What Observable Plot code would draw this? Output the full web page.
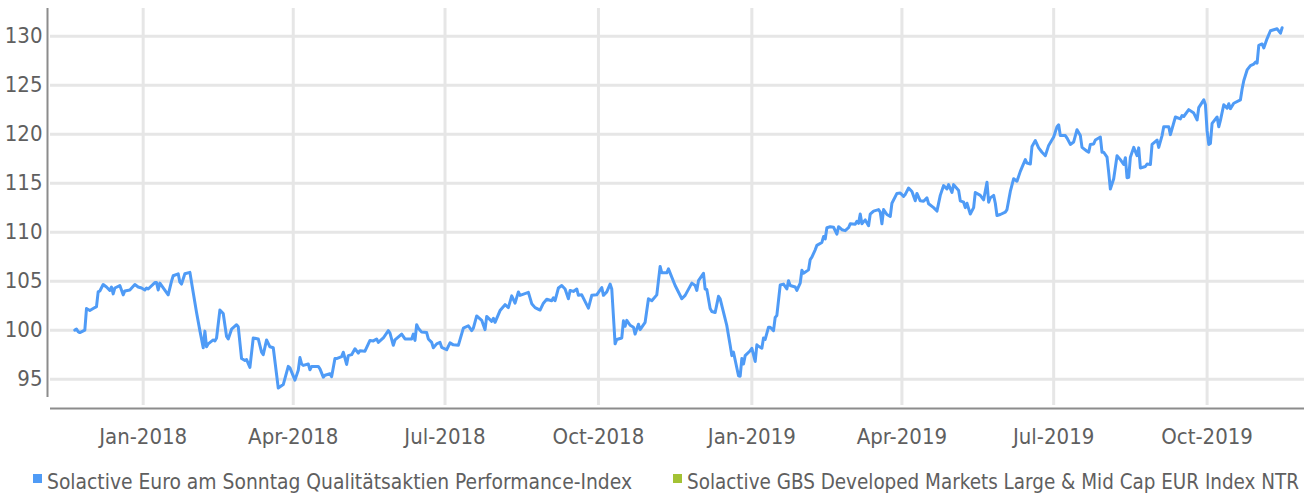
<!DOCTYPE html>
<html><head><meta charset="utf-8">
<script src="https://cdn.jsdelivr.net/npm/d3@7"></script>
<script src="https://cdn.jsdelivr.net/npm/@observablehq/plot@0.6"></script>
<style>
body{margin:0;background:#fff;}
#wrap{position:relative;width:1304px;height:495px;overflow:hidden;font-family:"Liberation Sans Narrow","DejaVu Sans Condensed","Roboto",sans-serif;color:#5f5f5f;background:#fff;}
#chart svg{display:block;}
.leg{position:absolute;top:469px;font-size:21px;line-height:26px;white-space:nowrap;transform-origin:0 50%;}
.sw{position:absolute;top:474px;width:9px;height:9px;}
</style>
</head><body>
<div id="wrap"><div id="chart"></div><div id="legend"></div></div>
<script>
const seriesNames = ["Solactive Euro am Sonntag Qualitätsaktien Performance-Index", "Solactive GBS Developed Markets Large & Mid Cap EUR Index NTR"];
const seriesColors = ["#4f9bf6", "#a3c234"];
const yTicks = [95, 100, 105, 110, 115, 120, 125, 130];
const xTickDates = ["2018-01-01","2018-04-01","2018-07-01","2018-10-01","2019-01-01","2019-04-01","2019-07-01","2019-10-01"];
const dates = [
"2017-11-21","2017-11-22","2017-11-23","2017-11-24","2017-11-27","2017-11-28","2017-11-30","2017-12-02","2017-12-04","2017-12-05",
"2017-12-06","2017-12-08","2017-12-10","2017-12-12","2017-12-13","2017-12-14","2017-12-15","2017-12-18","2017-12-20","2017-12-21",
"2017-12-24","2017-12-27","2017-12-29","2017-12-31","2018-01-02","2018-01-03","2018-01-04","2018-01-08","2018-01-09","2018-01-10",
"2018-01-11","2018-01-16","2018-01-18","2018-01-19","2018-01-22","2018-01-23","2018-01-24","2018-01-26","2018-01-29","2018-01-31",
"2018-02-02","2018-02-04","2018-02-06","2018-02-07","2018-02-08","2018-02-09","2018-02-12","2018-02-13","2018-02-14","2018-02-16",
"2018-02-18","2018-02-20","2018-02-21","2018-02-23","2018-02-26","2018-02-27","2018-03-01","2018-03-03","2018-03-04","2018-03-06",
"2018-03-08","2018-03-11","2018-03-13","2018-03-14","2018-03-16","2018-03-18","2018-03-20","2018-03-23","2018-03-26","2018-03-29",
"2018-03-30","2018-04-02","2018-04-04","2018-04-05","2018-04-06","2018-04-07","2018-04-10","2018-04-11","2018-04-12","2018-04-16",
"2018-04-17","2018-04-19","2018-04-20","2018-04-23","2018-04-24","2018-04-26","2018-04-27","2018-04-30","2018-05-01","2018-05-03",
"2018-05-04","2018-05-06","2018-05-08","2018-05-10","2018-05-11","2018-05-14","2018-05-17","2018-05-19","2018-05-21","2018-05-22",
"2018-05-25","2018-05-28","2018-05-29","2018-05-31","2018-06-01","2018-06-05","2018-06-07","2018-06-11","2018-06-12","2018-06-13",
"2018-06-14","2018-06-15","2018-06-17","2018-06-20","2018-06-21","2018-06-23","2018-06-24","2018-06-26","2018-06-28","2018-06-29",
"2018-07-02","2018-07-04","2018-07-06","2018-07-09","2018-07-12","2018-07-15","2018-07-17","2018-07-18","2018-07-20","2018-07-23",
"2018-07-25","2018-07-26","2018-07-29","2018-07-30","2018-07-31","2018-08-03","2018-08-06","2018-08-08","2018-08-10","2018-08-12",
"2018-08-14","2018-08-15","2018-08-20","2018-08-22","2018-08-24","2018-08-27","2018-08-29","2018-08-31","2018-09-03","2018-09-04",
"2018-09-05","2018-09-07","2018-09-09","2018-09-11","2018-09-13","2018-09-14","2018-09-16","2018-09-18","2018-09-19","2018-09-21",
"2018-09-25","2018-09-27","2018-09-30","2018-10-03","2018-10-04","2018-10-06","2018-10-08","2018-10-09","2018-10-11","2018-10-12",
"2018-10-15","2018-10-16","2018-10-17","2018-10-18","2018-10-20","2018-10-22","2018-10-23","2018-10-25","2018-10-26","2018-10-29",
"2018-10-31","2018-11-02","2018-11-05","2018-11-07","2018-11-08","2018-11-11","2018-11-12","2018-11-16","2018-11-20","2018-11-22",
"2018-11-26","2018-11-28","2018-11-29","2018-11-30","2018-12-03","2018-12-04","2018-12-05","2018-12-07","2018-12-08","2018-12-10",
"2018-12-12","2018-12-13","2018-12-17","2018-12-19","2018-12-20","2018-12-21","2018-12-24","2018-12-25","2018-12-26","2018-12-27",
"2018-12-28","2018-12-31","2019-01-01","2019-01-03","2019-01-04","2019-01-05","2019-01-07","2019-01-08","2019-01-09","2019-01-11",
"2019-01-12","2019-01-14","2019-01-15","2019-01-16","2019-01-18","2019-01-20","2019-01-22","2019-01-23","2019-01-24","2019-01-27",
"2019-01-28","2019-01-30","2019-01-31","2019-02-01","2019-02-04","2019-02-05","2019-02-06","2019-02-08","2019-02-09","2019-02-12",
"2019-02-13","2019-02-14","2019-02-15","2019-02-17","2019-02-19","2019-02-21","2019-02-22","2019-02-24","2019-02-26","2019-02-28",
"2019-03-01","2019-03-04","2019-03-05","2019-03-06","2019-03-07","2019-03-08","2019-03-10","2019-03-12","2019-03-13","2019-03-15",
"2019-03-18","2019-03-19","2019-03-20","2019-03-21","2019-03-23","2019-03-25","2019-03-26","2019-03-29","2019-03-31","2019-04-02",
"2019-04-03","2019-04-05","2019-04-07","2019-04-09","2019-04-10","2019-04-12","2019-04-14","2019-04-16","2019-04-17","2019-04-20",
"2019-04-22","2019-04-24","2019-04-26","2019-04-28","2019-04-29","2019-05-01","2019-05-02","2019-05-05","2019-05-06","2019-05-08",
"2019-05-09","2019-05-10","2019-05-12","2019-05-14","2019-05-15","2019-05-18","2019-05-20","2019-05-22","2019-05-23","2019-05-24",
"2019-05-26","2019-05-27","2019-05-28","2019-05-30","2019-06-02","2019-06-03","2019-06-05","2019-06-07","2019-06-09","2019-06-11",
"2019-06-12","2019-06-14","2019-06-15","2019-06-17","2019-06-18","2019-06-20","2019-06-22","2019-06-24","2019-06-26","2019-06-28",
"2019-07-01","2019-07-03","2019-07-04","2019-07-05","2019-07-08","2019-07-09","2019-07-11","2019-07-13","2019-07-15","2019-07-17",
"2019-07-18","2019-07-21","2019-07-22","2019-07-23","2019-07-25","2019-07-26","2019-07-29","2019-07-30","2019-07-31","2019-08-02",
"2019-08-03","2019-08-04","2019-08-06","2019-08-08","2019-08-10","2019-08-12","2019-08-13","2019-08-14","2019-08-15","2019-08-16",
"2019-08-18","2019-08-20","2019-08-21","2019-08-22","2019-08-25","2019-08-26","2019-08-28","2019-08-29","2019-09-01","2019-09-02",
"2019-09-04","2019-09-05","2019-09-08","2019-09-09","2019-09-12","2019-09-15","2019-09-16","2019-09-17","2019-09-20","2019-09-23",
"2019-09-25","2019-09-26","2019-09-29","2019-09-30","2019-10-01","2019-10-02","2019-10-03","2019-10-04","2019-10-07","2019-10-08",
"2019-10-09","2019-10-11","2019-10-13","2019-10-14","2019-10-15","2019-10-17","2019-10-21","2019-10-22","2019-10-23","2019-10-25",
"2019-10-27","2019-10-29","2019-10-30","2019-10-31","2019-11-01","2019-11-03","2019-11-04","2019-11-06","2019-11-08","2019-11-10",
"2019-11-12","2019-11-14","2019-11-15"
];
const values = [
100.0,100.1,99.85,99.75,100.0,102.2,102.0,102.2,102.4,103.9,
104.0,104.65,104.4,104.05,104.4,103.7,104.3,104.55,103.6,104.0,
104.1,104.65,104.4,104.3,104.1,104.3,104.2,104.85,104.85,104.1,
104.8,103.6,105.0,105.55,105.75,104.9,104.7,105.75,105.9,103.85,
101.8,99.95,98.2,99.9,98.3,98.6,99.0,98.9,99.2,102.05,
101.7,99.35,99.1,100.1,100.55,100.35,97.1,96.9,97.0,96.2,
99.2,99.1,97.75,97.5,99.0,98.3,98.2,94.1,94.45,96.3,
96.15,94.9,95.9,97.2,96.55,96.4,96.55,95.95,96.3,96.3,
96.05,95.2,95.4,95.55,95.25,97.1,97.1,97.3,97.75,96.5,
97.4,97.5,98.1,97.65,97.9,97.85,98.95,98.9,99.1,98.75,
99.2,99.95,99.7,98.45,99.0,99.6,99.1,99.1,99.6,98.95,
100.55,100.2,99.8,99.75,99.1,98.75,98.2,98.6,98.75,98.25,
98.0,98.7,98.5,98.45,100.2,100.45,99.95,100.2,101.45,101.0,
100.05,101.4,100.9,101.2,100.8,102.0,102.6,102.3,103.5,102.75,
103.9,103.55,103.85,102.7,102.3,102.05,102.75,103.15,103.0,103.3,
103.0,104.3,104.55,104.2,103.2,104.05,103.95,104.2,103.55,103.6,
102.25,103.55,103.6,104.35,103.55,103.9,104.7,104.2,98.6,99.05,
99.2,100.95,100.4,101.0,100.5,100.3,99.6,100.6,100.05,100.8,
103.2,103.0,103.6,106.5,105.85,105.85,106.25,104.55,103.2,103.55,
104.8,104.55,104.05,105.05,105.8,104.2,104.15,102.2,101.9,101.8,
103.45,103.2,100.45,98.45,97.4,97.75,95.35,95.3,97.1,96.55,
97.4,97.9,98.15,96.8,98.5,98.35,98.15,99.2,99.05,100.3,
100.3,99.95,101.3,101.5,104.6,104.7,104.2,105.05,104.55,104.4,
104.05,104.8,106.1,105.8,106.15,107.2,107.45,108.2,108.65,108.95,
109.55,109.3,110.45,110.55,110.5,109.8,110.55,110.25,110.15,110.45,
110.85,110.8,111.1,110.9,111.85,110.85,111.25,110.65,111.85,112.15,
112.3,112.05,110.85,112.3,111.8,111.6,112.95,113.95,114.0,113.65,
113.85,114.5,114.15,113.2,113.95,113.2,113.15,113.5,112.9,112.5,
112.15,113.75,114.75,114.4,114.85,114.05,114.85,114.25,113.2,113.05,
112.5,112.95,111.85,112.5,114.05,113.75,113.3,115.1,113.05,113.5,
113.75,112.95,111.7,111.8,112.05,112.3,114.15,115.45,115.2,116.2,
116.6,117.4,117.05,116.95,118.75,119.35,118.6,118.15,117.8,118.85,
119.7,120.75,120.95,119.85,119.85,119.6,118.95,119.2,120.45,119.85,
118.65,118.25,118.15,118.95,119.0,119.4,119.7,118.15,118.15,117.65,
116.1,114.4,115.45,117.8,117.4,116.9,117.6,115.55,115.6,117.65,
118.65,117.8,118.6,116.55,116.7,116.95,116.9,118.95,119.4,118.65,
119.85,120.75,120.75,119.95,121.75,121.55,121.9,121.8,122.5,122.15,
121.45,122.7,123.5,123.0,120.35,118.95,119.05,121.1,121.75,120.75,
121.4,123.0,122.65,123.1,122.6,123.15,123.5,124.6,125.45,126.55,
127.0,127.15,127.35,127.25,129.05,129.2,128.8,129.75,130.55,130.65,
130.75,130.3,130.85
];

const rows = dates.map((d, i) => ({date: new Date(d), value: values[i]}));
const xTicks = xTickDates.map(d => new Date(d));
const xDomain = [new Date("2017-11-06T10:00:00Z"), new Date("2019-11-28T10:00:00Z")];
const yDomain = [92.31, 132.82];
const font = '"Liberation Sans Narrow","DejaVu Sans Condensed","Roboto",sans-serif';

const chart = Plot.plot({
  width: 1304, height: 455,
  marginLeft: 50, marginRight: 0, marginTop: 8, marginBottom: 50,
  style: {fontSize: "22px", fontFamily: font, color: "#5f5f5f", background: "#fff", overflow: "visible"},
  x: {type: "utc", domain: xDomain, ticks: xTicks, tickFormat: d3.utcFormat("%b-%Y"), tickSize: 0, tickPadding: 23, label: null},
  y: {domain: yDomain, ticks: yTicks, tickSize: 0, tickPadding: 8, label: null},
  marks: [
    Plot.ruleY(yTicks, {stroke: "#e6e6e6", strokeWidth: 3}),
    Plot.ruleX(xTicks, {stroke: "#e6e6e6", strokeWidth: 3}),
    Plot.ruleX([xDomain[0]], {dx: -3, stroke: "#8c8c8c", strokeWidth: 2, insetBottom: 8}),
    Plot.ruleY([yDomain[0]], {dy: 3, stroke: "#8c8c8c", strokeWidth: 2}),
    Plot.line(rows, {x: "date", y: "value", stroke: seriesColors[0], strokeWidth: 3, strokeLinejoin: "round"})
  ]
});
document.getElementById("chart").appendChild(chart);

// legend layout: text start and text width of each entry
const legendLeft = [47, 687];
const legendWidth = [585, 612];
const legend = document.getElementById("legend");
seriesNames.forEach((name, i) => {
  const sw = document.createElement("div");
  sw.className = "sw";
  sw.style.left = (legendLeft[i] - 14) + "px";
  sw.style.background = seriesColors[i];
  legend.appendChild(sw);
  const item = document.createElement("div");
  item.className = "leg";
  item.style.left = legendLeft[i] + "px";
  item.textContent = name;
  legend.appendChild(item);
  const w = item.getBoundingClientRect().width;
  if (w > 0) item.style.transform = `scaleX(${legendWidth[i] / w})`;
});
</script>
</body></html>
